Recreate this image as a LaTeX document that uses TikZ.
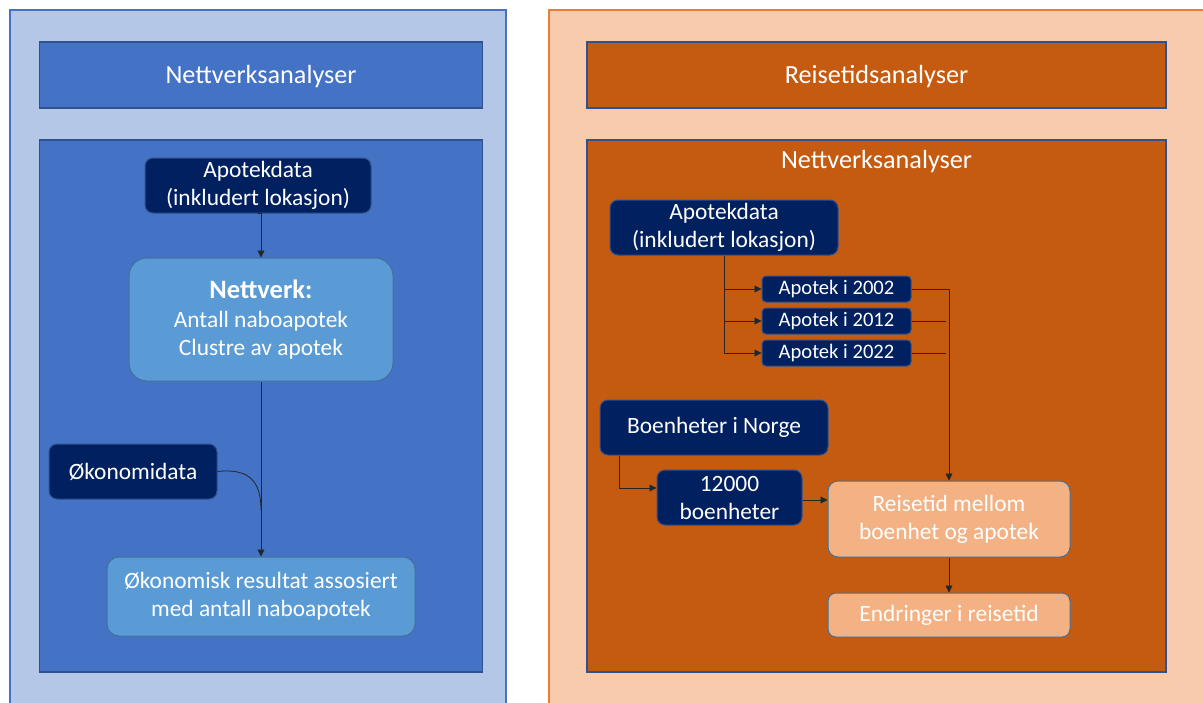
\documentclass[tikz,border=0pt]{standalone}
\usepackage{fontspec}
\setmainfont{Carlito}
\usetikzlibrary{arrows.meta,calc}
\definecolor{lpanel}{HTML}{B4C7E7}
\definecolor{lpanelb}{HTML}{4472C4}
\definecolor{lbox}{HTML}{4472C4}
\definecolor{boxb}{HTML}{2F528F}
\definecolor{navy}{HTML}{002060}
\definecolor{lblue}{HTML}{5B9BD5}
\definecolor{lblueb}{HTML}{41719C}
\definecolor{rpanel}{HTML}{F8CBAD}
\definecolor{rpanelb}{HTML}{ED7D31}
\definecolor{obox}{HTML}{C55A11}
\definecolor{peach}{HTML}{F4B183}
\tikzset{
  base/.style={text=white, align=center, inner sep=0pt, line width=1pt, font=\fontsize{23.4}{28}\selectfont},
  bigbox/.style={base, draw=boxb, line width=1.2pt, font=\fontsize{26.2}{31}\selectfont},
  navybox/.style={base, fill=navy, draw=boxb, rounded corners=8pt},
  smallbox/.style={base, fill=navy, draw=boxb, rounded corners=4pt, font=\fontsize{20.6}{24}\selectfont},
  lightbox/.style={base, fill=lblue, draw=lblueb},
  peachbox/.style={base, fill=peach, draw=lblueb, rounded corners=10pt},
  conn/.style={line width=0.8pt, draw=black!85},
  arr/.style={conn, -{Triangle[length=7pt,width=7pt]}},
}
\begin{document}
\begin{tikzpicture}[x=1pt,y=-1pt]
\useasboundingbox (0,0) rectangle (1203,702);
% panels
\draw[fill=lpanel, draw=lpanelb, line width=1.5pt] (10,10) rectangle (506,712);
\draw[fill=rpanel, draw=rpanelb, line width=1.5pt] (549,10) rectangle (1215,712);
% left
\node[bigbox, fill=lbox, minimum width=443, minimum height=66] (ltitle) at (261,75) {};
\node[base, font=\fontsize{26.2}{31}\selectfont] (ltitletext) at (261,77) {Nettverksanalyser};
\node[bigbox, fill=lbox, minimum width=443, minimum height=532] (linner) at (261,406) {};
\node[navybox, minimum width=226, minimum height=55] (apl) at (258,185.5) {Apotekdata\\(inkludert lokasjon)};
\node[lightbox, rounded corners=18pt, minimum width=264, minimum height=123] (nett) at (261,319.5) {\textbf{\fontsize{26.5}{31}\selectfont Nettverk:}\\[1pt]Antall naboapotek\\Clustre av apotek};
\node[navybox, minimum width=168, minimum height=55] (okd) at (133,471.5) {Økonomidata};
\node[lightbox, rounded corners=12pt, minimum width=308, minimum height=79] (okr) at (261,596.5) {Økonomisk resultat assosiert\\med antall naboapotek};
\coordinate (join) at (nett.south |- 0,510);
\draw[arr] (apl.south) -- (nett.south |- apl.south) -- (nett.north);
\draw[arr] (nett.south) -- (okr.north);
\draw[conn] (okd.east) .. controls (250,468) and (261,482) .. (join);
% right
\node[bigbox, fill=obox, minimum width=579, minimum height=66] (rtitle) at (876.5,75) {};
\node[base, font=\fontsize{26.2}{31}\selectfont] (rtitletext) at (876.5,77) {Reisetidsanalyser};
\node[bigbox, fill=obox, minimum width=579, minimum height=532] (rinner) at (876.5,406) {};
\node[base, font=\fontsize{26.2}{31}\selectfont] (rsub) at (876.5,162) {Nettverksanalyser};
\node[navybox, minimum width=228, minimum height=55] (apr) at (724,227.5) {Apotekdata\\(inkludert lokasjon)};
\node[smallbox, minimum width=149, minimum height=26] (a02) at (836.5,289) {Apotek i 2002};
\node[smallbox, minimum width=149, minimum height=26] (a12) at (836.5,321) {Apotek i 2012};
\node[smallbox, minimum width=149, minimum height=26] (a22) at (836.5,353) {Apotek i 2022};
\node[navybox, minimum width=228, minimum height=55] (boen) at (714,427.5) {Boenheter i Norge};
\node[navybox, minimum width=145, minimum height=55] (b12) at (729.5,497.5) {12000\\boenheter};
\node[peachbox, minimum width=242, minimum height=76] (reis) at (949,519) {Reisetid mellom\\boenhet og apotek};
\node[peachbox, rounded corners=8pt, minimum width=242, minimum height=44] (endr) at (949,615) {Endringer i reisetid};
\draw[arr] (apr.south) |- (a22.west);
\draw[arr] (apr.south |- a02.west) -- (a02.west);
\draw[arr] (apr.south |- a12.west) -- (a12.west);
\draw[arr] (a02.east) -| (reis.north);
\draw[conn] (a12.east) -- ($(reis.north |- a12.east)+(-3,0)$);
\draw[conn] (a22.east) -- ($(reis.north |- a22.east)+(-3,0)$);
\draw[arr] ([xshift=20pt]boen.south west) |- ([yshift=9.5pt]b12.west);
\draw[arr] ($(b12.east)+(0,2.5)$) -- ($(b12.east -| reis.west)+(0,2.5)$);
\draw[arr] (reis.south) -- (endr.north);
\end{tikzpicture}
\end{document}
